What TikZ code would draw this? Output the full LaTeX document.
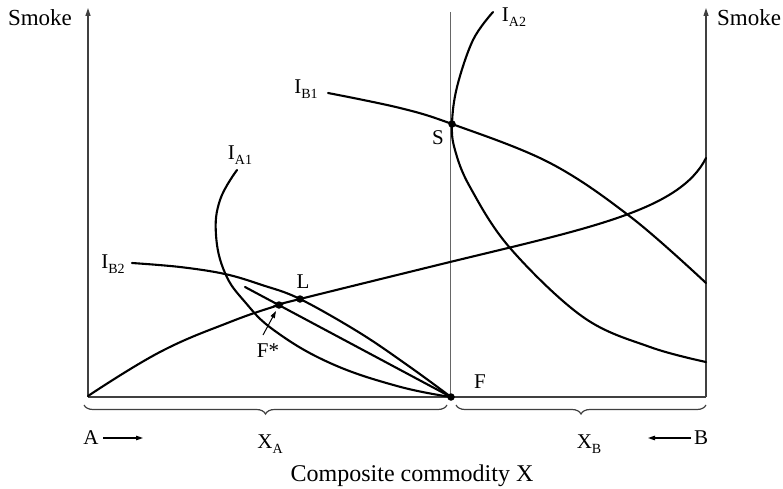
\documentclass[tikz,border=0pt]{standalone}
\usepackage{fontspec}
\setmainfont{Liberation Serif}
\usetikzlibrary{decorations.pathreplacing,arrows.meta}
\newcommand\lsub[1]{\raisebox{-0.5ex}{\fontsize{14}{14}\selectfont #1}}
\begin{document}
\begin{tikzpicture}[x=1pt,y=-1pt,
  axisline/.style={line width=1.2pt,draw=black!75},
  curve/.style={line width=2.1pt,line cap=round},
  dot/.style={circle,fill=black,inner sep=0pt,minimum size=7.5pt},
  lbl/.style={font=\fontsize{21}{21}\selectfont,inner sep=0pt},
  brc/.style={decorate,decoration={brace,amplitude=9pt,mirror},line width=1.2pt,draw=black!75}]
\useasboundingbox (0,0) rectangle (783,489);
% key points
\coordinate (O) at (88,397);
\coordinate (Otop) at (88,8);
\coordinate (R) at (706,397);
\coordinate (Rtop) at (706,8);
\coordinate (Mtop) at (450,12);
\coordinate (Mbot) at (450,397);
\coordinate (F) at (451,397);
\coordinate (Fs) at (279,305);
\coordinate (L) at (300,299);
\coordinate (S) at (452,124);
\coordinate (Ls) at (245,287);
\coordinate (Cend) at (706,158);
% axes
\draw[axisline,-{Triangle[length=8pt,width=5pt]}] (O) -- (Otop);
\draw[axisline,-{Triangle[length=8pt,width=5pt]}] (R) -- (Rtop);
\draw[axisline] (O) -- (R);
\draw[line width=0.9pt,draw=black!60] (Mtop) -- (Mbot);
% contract curve
\draw[curve] plot[smooth,tension=0.7] coordinates {(88,396) (160,352) (230,322) (279,305) (300,299) (450,262)} .. controls (590,228) and (680,210) .. (Cend);
% I_A1
\draw[curve] plot[smooth,tension=0.7] coordinates {(237,170) (220,200) (216,235) (225,273) (245,302) (275,331) (330,363) (397,386) (451,397)};
% I_B2
\draw[curve] plot[smooth,tension=0.6] coordinates {(132,263) (180,267) (225,274) (262,285) (300,299) (360,333) (410,367) (451,397)};
% straight line
\draw[curve] (Ls) -- (F);
% I_B1
\draw[curve] plot[smooth,tension=0.6] coordinates {(328,93) (400,108) (452,124) (550,163) (632,218) (706,283)};
% I_A2
\draw[curve] plot[smooth,tension=0.6] coordinates {(493,12) (473,40) (457,87) (452,124) (455,150) (470,187) (510,248) (583,317) (650,347) (706,362)};
% dots
\node[dot] at (F) {};
\node[dot] at (Fs) {};
\node[dot] at (L) {};
\node[dot] at (S) {};
% labels
\node[lbl,font=\fontsize{23}{23}\selectfont] (smL) at (40,18) {Smoke};
\node[lbl,font=\fontsize{23}{23}\selectfont] (smR) at (749,18) {Smoke};
\node[lbl] (ia1) at (240,155) {I\lsub{A1}};
\node[lbl] (ib1) at (306,89) {I\lsub{B1}};
\node[lbl] (ib2) at (113,264) {I\lsub{B2}};
\node[lbl] (ia2) at (514,17) {I\lsub{A2}};
\node[lbl] (lS) at (438,138) {S};
\node[lbl] (lL) at (303,282) {L};
\node[lbl] (lF) at (480,382) {F};
\node[lbl] (lFs) at (268,351) {F*};
\coordinate (fsa) at (263,335);
\coordinate (fsb) at (276,311);
\draw[line width=1pt,-{Triangle[length=7pt,width=4.5pt]}] (fsa) -- (fsb);
% braces
\draw[brc] (84,405) -- (447,405);
\draw[brc] (456,405) -- (706,405);
\node[lbl] (lA) at (91,438) {A};
\coordinate (aa1) at (103,438);
\coordinate (aa2) at (143,438);
\draw[line width=1.1pt,-{Triangle[length=7pt,width=4.5pt]}] (aa1) -- (aa2);
\node[lbl] (lB) at (701,438) {B};
\coordinate (bb1) at (691,438);
\coordinate (bb2) at (648,438);
\draw[line width=1.1pt,-{Triangle[length=7pt,width=4.5pt]}] (bb1) -- (bb2);
\node[lbl] (lXA) at (270,444) {X\lsub{A}};
\node[lbl] (lXB) at (589,444) {X\lsub{B}};
\node[font=\fontsize{24}{24}\selectfont,inner sep=0pt] (cap) at (412,476) {Composite commodity X};
\end{tikzpicture}
\end{document}
